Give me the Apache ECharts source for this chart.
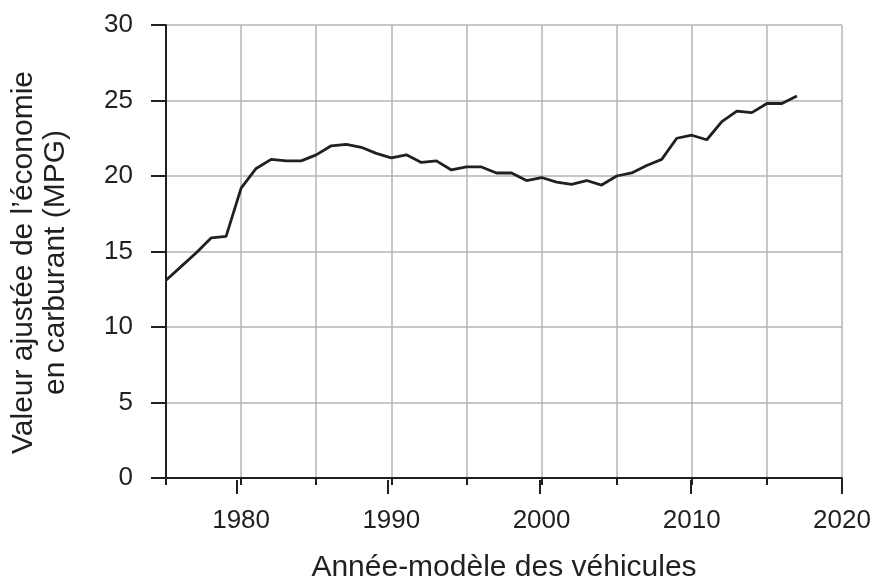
<!DOCTYPE html>
<html>
<head>
<meta charset="utf-8">
<script src="https://cdn.jsdelivr.net/npm/echarts@6/dist/echarts.min.js"></script>
<style>
  html, body { margin: 0; padding: 0; background: #fff; }
  #chart { width: 877px; height: 588px; }
</style>
</head>
<body>
<div id="chart"></div>
<script>
// années-modèles et économie de carburant ajustée (MPG)
const years = [1975, 1976, 1977, 1978, 1979, 1980, 1981, 1982, 1983, 1984,
  1985, 1986, 1987, 1988, 1989, 1990, 1991, 1992, 1993, 1994,
  1995, 1996, 1997, 1998, 1999, 2000, 2001, 2002, 2003, 2004,
  2005, 2006, 2007, 2008, 2009, 2010, 2011, 2012, 2013, 2014,
  2015, 2016, 2017];
const mpg = [13.1, 14.0, 14.9, 15.9, 16.0, 19.2, 20.5, 21.1, 21.0, 21.0,
  21.4, 22.0, 22.1, 21.9, 21.5, 21.2, 21.4, 20.9, 21.0, 20.4,
  20.6, 20.6, 20.2, 20.2, 19.7, 19.9, 19.6, 19.45, 19.7, 19.4,
  20.0, 20.2, 20.7, 21.1, 22.5, 22.7, 22.4, 23.6, 24.3, 24.2,
  24.8, 24.8, 25.3];
const xLabels = [1980, 1990, 2000, 2010, 2020];

const ink = '#231f20';
const font = 'Liberation Sans, Arial, sans-serif';
const gridLine = { show: true, lineStyle: { color: '#b5b5b5', width: 1.5 } };

// 1 an = 681 / 45 px ; la 2e grille commence en 1980
const plotW = 681;
const yearPx = plotW / 45;

const chart = echarts.init(document.getElementById('chart'));
chart.setOption({
  animation: false,
  grid: [
    { left: 161, top: 25, width: plotW, height: 455 },
    { left: 161 + 5 * yearPx, top: 25, width: plotW - 5 * yearPx, height: 455 }
  ],
  xAxis: [{
    type: 'value',
    gridIndex: 0,
    min: 1975,
    max: 2020,
    interval: 5,
    name: 'Année-modèle des véhicules',
    nameLocation: 'middle',
    nameGap: 75,
    nameTextStyle: { fontFamily: font, fontSize: 30, color: ink },
    axisLine: { show: true, lineStyle: { color: ink, width: 2 } },
    axisTick: { show: true, length: 7, lineStyle: { color: ink, width: 2 } },
    axisLabel: {
      margin: 30,
      fontFamily: font,
      fontSize: 26,
      color: ink,
      formatter: v => xLabels.includes(v) ? String(v) : ''
    },
    splitLine: gridLine
  }, {
    // grands traits sous les années étiquetées
    type: 'value',
    gridIndex: 1,
    min: 1980,
    max: 2020,
    interval: 10,
    axisLine: { show: false },
    axisTick: { show: true, length: 14, lineStyle: { color: ink, width: 2 } },
    axisLabel: { show: false },
    splitLine: { show: false }
  }],
  yAxis: [{
    type: 'value',
    gridIndex: 0,
    min: 0,
    max: 30,
    interval: 5,
    name: 'Valeur ajustée de l\u2019économie\nen carburant (MPG)',
    nameLocation: 'middle',
    nameGap: 94,
    nameTextStyle: { fontFamily: font, fontSize: 30, color: ink, lineHeight: 32, padding: [0, 22, 0, 0] },
    axisLine: { show: true, lineStyle: { color: ink, width: 2 } },
    axisTick: { show: true, length: 15, lineStyle: { color: ink, width: 2 } },
    axisLabel: { margin: 33, fontFamily: font, fontSize: 26, color: ink },
    splitLine: gridLine
  }, {
    type: 'value',
    gridIndex: 1,
    show: false,
    min: 0,
    max: 30
  }],
  series: [{
    type: 'line',
    xAxisIndex: 0,
    yAxisIndex: 0,
    data: years.map((y, i) => [y, mpg[i]]),
    showSymbol: false,
    lineStyle: { color: ink, width: 2.8 },
    z: 5
  }]
});
</script>
</body>
</html>
